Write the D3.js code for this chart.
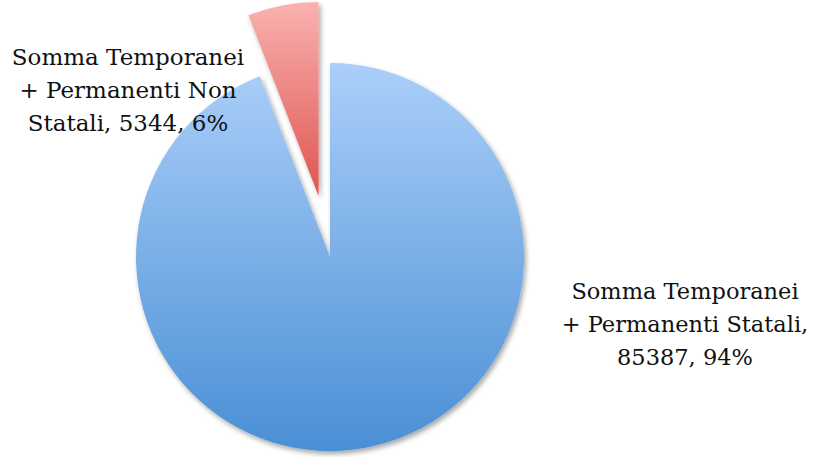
<!DOCTYPE html>
<html>
<head>
<meta charset="utf-8">
<script src="https://cdn.jsdelivr.net/npm/d3@7"></script>
<style>
  body { margin: 0; background: #fff; }
  text { font-family: "DejaVu Serif", "Liberation Serif", serif; fill: #111; }
</style>
</head>
<body>
<div id="my_pie"></div>
<script>
// slice data
const categories = ["Somma Temporanei + Permanenti Statali", "Somma Temporanei + Permanenti Non Statali"];
const values = [85387, 5344];
const percents = ["94%", "6%"];
const labelLines = [
  ["Somma Temporanei", "+ Permanenti Statali,", "85387, 94%"],
  ["Somma Temporanei", "+ Permanenti Non", "Statali, 5344, 6%"]
];

const width = 813, height = 457;
const cx = 330, cy = 257, radius = 194;
const explode = [0, 62];

const svg = d3.select("#my_pie")
  .append("svg")
  .attr("width", width)
  .attr("height", height);

const defs = svg.append("defs");

const grads = [
  { id: "gBlue", top: "#abcff9", bottom: "#4a8fd5" },
  { id: "gRed", top: "#f9b2b1", bottom: "#df5450" }
];
grads.forEach(function(g) {
  const lg = defs.append("linearGradient")
    .attr("id", g.id)
    .attr("x1", 0).attr("y1", 0).attr("x2", 0).attr("y2", 1);
  lg.append("stop").attr("offset", "0%").attr("stop-color", g.top);
  lg.append("stop").attr("offset", "100%").attr("stop-color", g.bottom);
});

const shadow = defs.append("filter")
  .attr("id", "shadow")
  .attr("x", "-10%").attr("y", "-10%").attr("width", "120%").attr("height", "120%");
shadow.append("feDropShadow")
  .attr("dx", 2).attr("dy", 3)
  .attr("stdDeviation", 2.5)
  .attr("flood-color", "#000")
  .attr("flood-opacity", 0.35);

const pie = d3.pie().sort(null).value(d => d);
const arcs = pie(values);

const arc = d3.arc().innerRadius(0).outerRadius(radius);

const g = svg.append("g").attr("transform", `translate(${cx}, ${cy})`);

g.selectAll("path")
  .data(arcs)
  .join("path")
  .attr("d", arc)
  .attr("fill", (d, i) => `url(#${grads[i].id})`)
  .attr("filter", "url(#shadow)")
  .attr("transform", function(d, i) {
    const mid = (d.startAngle + d.endAngle) / 2;
    const dx = Math.sin(mid) * explode[i];
    const dy = -Math.cos(mid) * explode[i];
    return `translate(${dx}, ${dy})`;
  });

// labels
const labelPos = [[128, 65], [685, 299]];
const fontSizes = [23, 22.5];
const lineH = 33;

// label i goes with slice order reversed: Non Statali on the left
[1, 0].forEach(function(k, i) {
  const t = svg.append("text")
    .attr("text-anchor", "middle")
    .style("font-size", fontSizes[i] + "px");
  labelLines[k].forEach(function(l, j) {
    t.append("tspan")
      .attr("x", labelPos[i][0])
      .attr("y", labelPos[i][1] + j * lineH)
      .text(l);
  });
});
</script>
</body>
</html>
